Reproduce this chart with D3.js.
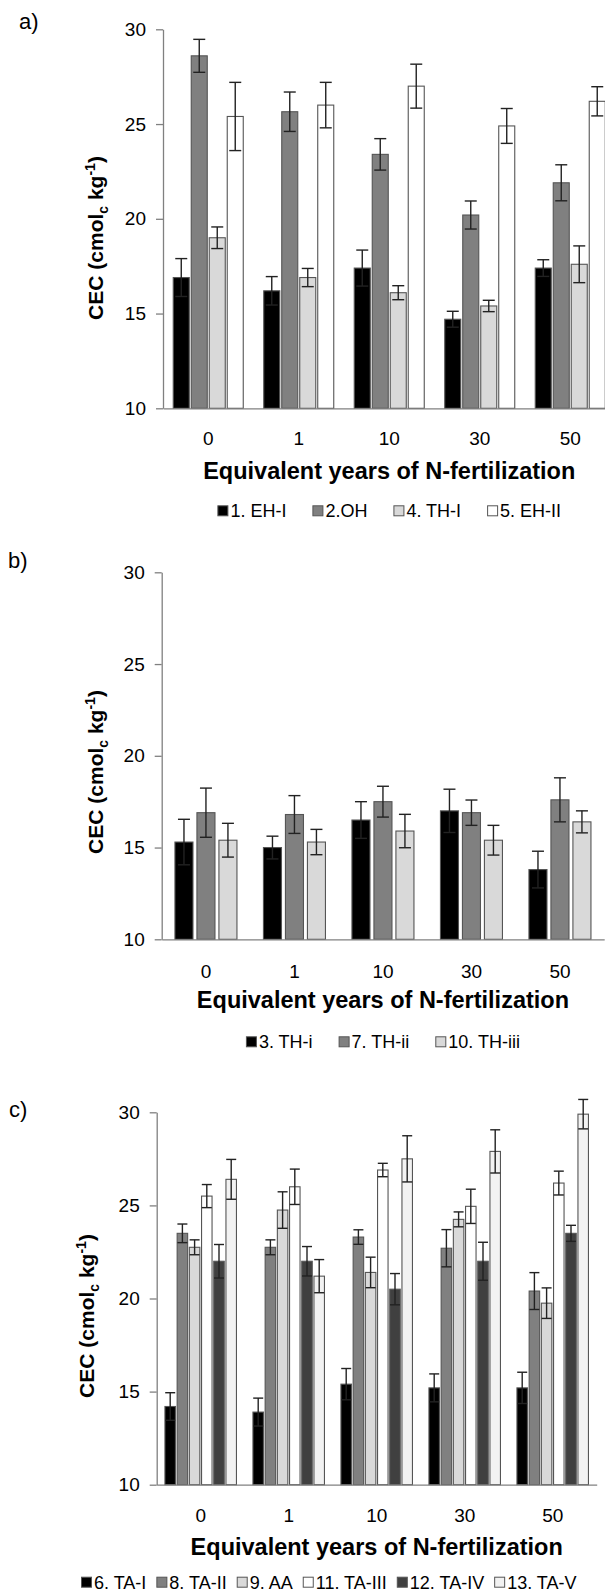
<!DOCTYPE html>
<html lang="en">
<head>
    <meta charset="utf-8">
    <title>CEC by equivalent years of N-fertilization</title>
    <script src="https://cdn.jsdelivr.net/npm/d3@7"></script>
    <style>
        body { margin: 0; background: #fff; }
        svg { display: block; }
    </style>
</head>
<body>
<script>
    // categories (x axis)
    var years = ["0", "1", "10", "30", "50"];
    var yTicks = [10, 15, 20, 25, 30];

    // panel a
    var seriesA = ["1. EH-I", "2.OH", "4. TH-I", "5. EH-II"];
    var meanA = [
        [16.9, 16.2, 17.4, 14.7, 17.4],
        [28.6, 25.65, 23.4, 20.2, 21.9],
        [19.0, 16.9, 16.1, 15.4, 17.6],
        [25.4, 26.0, 27.0, 24.9, 26.2]
    ];
    var errA = [
        [1.0, 0.75, 0.95, 0.42, 0.44],
        [0.87, 1.04, 0.83, 0.74, 0.95],
        [0.57, 0.48, 0.37, 0.3, 0.97],
        [1.8, 1.2, 1.16, 0.92, 0.77]
    ];
    var colorA = ["#000000", "#808080", "#d9d9d9", "#ffffff"];

    // panel b
    var seriesB = ["3. TH-i", "7. TH-ii", "10. TH-iii"];
    var meanB = [
        [15.3, 15.0, 16.5, 17.0, 13.8],
        [16.9, 16.8, 17.5, 16.9, 17.6],
        [15.4, 15.3, 15.9, 15.4, 16.4]
    ];
    var errB = [
        [1.24, 0.62, 1.0, 1.18, 1.0],
        [1.34, 1.03, 0.84, 0.69, 1.2],
        [0.92, 0.69, 0.91, 0.81, 0.6]
    ];
    var colorB = ["#000000", "#808080", "#d9d9d9"];

    // panel c
    var seriesC = ["6. TA-I", "8. TA-II", "9. AA", "11. TA-III", "12. TA-IV", "13. TA-V"];
    var meanC = [
        [14.2, 13.9, 15.4, 15.2, 15.2],
        [23.5, 22.75, 23.3, 22.7, 20.4],
        [22.75, 24.75, 21.4, 24.25, 19.75],
        [25.5, 26.0, 26.9, 24.95, 26.2],
        [22.0, 22.0, 20.5, 22.0, 23.5],
        [26.4, 21.2, 27.5, 27.9, 29.9]
    ];
    var errC = [
        [0.74, 0.75, 0.84, 0.75, 0.84],
        [0.5, 0.4, 0.39, 1.0, 0.99],
        [0.4, 0.98, 0.82, 0.4, 0.82],
        [0.62, 0.95, 0.36, 0.92, 0.64],
        [0.9, 0.79, 0.84, 1.02, 0.43],
        [1.07, 0.89, 1.24, 1.16, 0.79]
    ];
    var colorC = ["#000000", "#808080", "#d9d9d9", "#ffffff", "#404040", "#f2f2f2"];

    var FONT = "'Liberation Sans', Arial, sans-serif";
    var axisColor = "#808080";

    var svg = d3.select("body")
        .append("svg")
        .attr("width", 605)
        .attr("height", 1593)
        .attr("font-family", FONT);

    function drawPanel(p) {
        var g = svg.append("g");

        var y = d3.scaleLinear().domain([10, 30]).range([p.bottom, p.top]);
        var x0 = d3.scaleBand().domain(years).range([p.left, p.left + p.width]);
        var x1 = d3.scaleBand().domain(p.series).range([0, p.groupWidth]).paddingInner(p.inner);
        var off = (x0.bandwidth() - p.groupWidth) / 2;

        var data = [];
        p.series.forEach(function (s, i) {
            years.forEach(function (yr, j) {
                data.push({ s: s, yr: yr, m: p.means[i][j], e: p.errs[i][j], c: p.colors[i] });
            });
        });

        // y axis
        var ya = g.append("g")
            .attr("transform", "translate(" + p.left + ",0)")
            .call(d3.axisLeft(y).tickValues(yTicks).tickSize(7).tickSizeOuter(0).tickPadding(10));
        ya.attr("font-family", FONT).attr("font-size", 19);
        ya.select(".domain").attr("stroke", axisColor).attr("stroke-width", 1.3);
        ya.selectAll(".tick line").attr("stroke", axisColor).attr("stroke-width", 1.3);
        ya.selectAll(".tick text").attr("fill", "#000");

        // bars
        g.selectAll("rect.bar")
            .data(data)
            .enter()
            .append("rect")
            .attr("class", "bar")
            .attr("x", function (d) { return x0(d.yr) + off + x1(d.s); })
            .attr("y", function (d) { return y(d.m); })
            .attr("width", x1.bandwidth())
            .attr("height", function (d) { return y(10) - y(d.m); })
            .attr("fill", function (d) { return d.c; })
            .attr("stroke", "#555")
            .attr("stroke-width", 1.1);

        // error bars
        var eb = g.selectAll("g.err")
            .data(data)
            .enter()
            .append("g")
            .attr("class", "err")
            .attr("transform", function (d) {
                return "translate(" + (x0(d.yr) + off + x1(d.s) + x1.bandwidth() / 2) + ",0)";
            })
            .attr("stroke", "#222")
            .attr("stroke-width", 1.4);
        eb.append("line")
            .attr("y1", function (d) { return y(d.m + d.e); })
            .attr("y2", function (d) { return y(d.m - d.e); });
        eb.append("line")
            .attr("x1", -p.cap / 2).attr("x2", p.cap / 2)
            .attr("y1", function (d) { return y(d.m + d.e); })
            .attr("y2", function (d) { return y(d.m + d.e); });
        eb.append("line")
            .attr("x1", -p.cap / 2).attr("x2", p.cap / 2)
            .attr("y1", function (d) { return y(d.m - d.e); })
            .attr("y2", function (d) { return y(d.m - d.e); });

        // x axis
        var xa = g.append("g")
            .attr("transform", "translate(0," + p.bottom + ")")
            .call(d3.axisBottom(x0).tickSize(0).tickSizeOuter(0).tickPadding(p.labPad));
        xa.attr("font-family", FONT).attr("font-size", 19);
        xa.select(".domain").attr("stroke", axisColor).attr("stroke-width", 1.3);
        xa.selectAll(".tick text").attr("fill", "#000");

        // axis title
        g.append("text")
            .attr("x", p.left + p.width / 2)
            .attr("y", p.bottom + p.titleOff)
            .attr("text-anchor", "middle")
            .attr("font-weight", "bold")
            .attr("font-size", 23.5)
            .text("Equivalent years of N-fertilization");

        // y title
        var yt = g.append("text")
            .attr("transform", "translate(" + p.ylabX + "," + p.ylabY + ") rotate(-90)")
            .attr("text-anchor", "middle")
            .attr("font-weight", "bold")
            .attr("font-size", 21);
        yt.append("tspan").text("CEC (cmol");
        yt.append("tspan").attr("font-size", 14).attr("dy", 5).text("c");
        yt.append("tspan").attr("dy", -5).text(" kg");
        yt.append("tspan").attr("font-size", 14).attr("dy", -8).text("-1");
        yt.append("tspan").attr("dy", 8).text(")");

        // panel letter
        g.append("text")
            .attr("x", p.letterX)
            .attr("y", p.letterY)
            .attr("font-size", 22)
            .text(p.letter);

        // legend
        var lg = g.append("g");
        var cx = 0;
        p.series.forEach(function (s, i) {
            var it = lg.append("g").attr("transform", "translate(" + cx + ",0)");
            it.append("rect")
                .attr("x", 0.5).attr("y", -11.5)
                .attr("width", 10).attr("height", 10)
                .attr("fill", p.colors[i])
                .attr("stroke", "#555")
                .attr("stroke-width", 1);
            var t = it.append("text")
                .attr("x", 13)
                .attr("font-size", p.legendFont)
                .text(s);
            cx += 13 + t.node().getComputedTextLength() + p.legendGap;
        });
        var total = cx - p.legendGap;
        var lx = p.legendStart !== undefined ? p.legendStart : (p.left + p.width / 2 - total / 2);
        lg.attr("transform", "translate(" + lx + "," + (p.bottom + p.legendOff) + ")");
    }

    drawPanel({
        letter: "a)", letterX: 19, letterY: 29,
        left: 163, width: 452.5, top: 29.3, bottom: 408.3,
        series: seriesA, means: meanA, errs: errA, colors: colorA,
        groupWidth: 70, inner: 0.11, cap: 12,
        ylabX: 103, ylabY: 238, labPad: 23,
        titleOff: 71, legendOff: 109, legendFont: 18, legendGap: 26
    });

    drawPanel({
        letter: "b)", letterX: 8, letterY: 568,
        left: 161.7, width: 442.5, top: 572.3, bottom: 939.3,
        series: seriesB, means: meanB, errs: errB, colors: colorB,
        groupWidth: 62, inner: 0.18, cap: 12,
        ylabX: 103, ylabY: 772, labPad: 25,
        titleOff: 69, legendOff: 109, legendFont: 18, legendGap: 26
    });

    drawPanel({
        letter: "c)", letterX: 9, letterY: 1117,
        left: 156.7, width: 440, top: 1112.3, bottom: 1484.7,
        series: seriesC, means: meanC, errs: errC, colors: colorC,
        groupWidth: 71.5, inner: 0.14, cap: 10,
        ylabX: 94, ylabY: 1316, labPad: 24,
        titleOff: 70, legendOff: 104, legendFont: 18, legendGap: 10, legendStart: 81
    });
</script>
</body>
</html>
